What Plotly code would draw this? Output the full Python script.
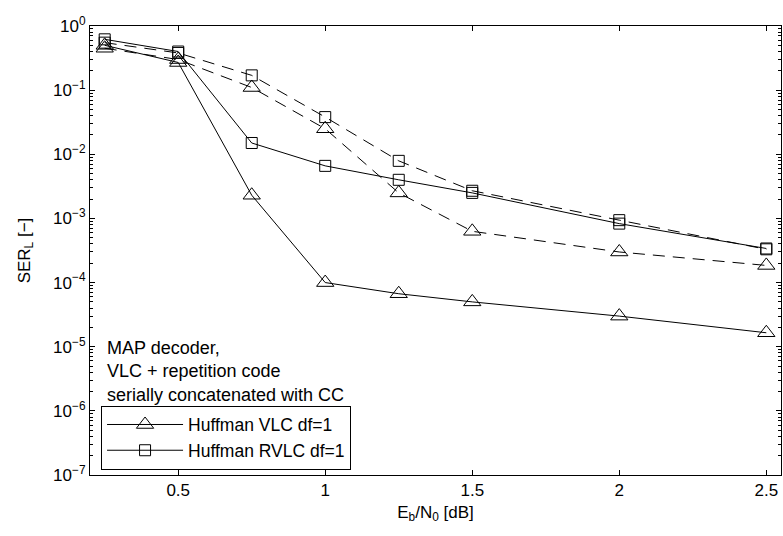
import plotly.graph_objects as go

ebn0 = [0.25, 0.5, 0.75, 1.0, 1.25, 1.5, 2.0, 2.5]
vlc_solid = [0.50, 0.27, 2.3e-3, 1.0e-4, 6.7e-5, 5.0e-5, 3.0e-5, 1.65e-5]
rvlc_solid = [0.62, 0.40, 1.5e-2, 6.6e-3, 4.0e-3, 2.5e-3, 8.3e-4, 3.4e-4]
vlc_dashed = [0.45, 0.30, 0.11, 2.5e-2, 2.5e-3, 6.3e-4, 3.0e-4, 1.85e-4]
rvlc_dashed = [0.55, 0.38, 0.17, 3.8e-2, 7.9e-3, 2.7e-3, 9.4e-4, 3.3e-4]

xtick_vals = [0.5, 1, 1.5, 2, 2.5]
xtick_text = ["0.5", "1", "1.5", "2", "2.5"]
ytick_exps = [0, -1, -2, -3, -4, -5, -6, -7]

font_family = "Liberation Sans, Arial, Helvetica, sans-serif"

fig = go.Figure()

def add(y, name, symbol, size, dash, show):
    fig.add_trace(go.Scatter(
        x=ebn0, y=y, mode="lines+markers", name=name, showlegend=show,
        line=dict(color="black", width=1, dash=dash),
        marker=dict(symbol=symbol, size=size, color="black",
                    line=dict(color="black", width=1)),
    ))

add(vlc_dashed, "VLC dashed", "triangle-up-open", 15, "12px,8px", False)
add(rvlc_dashed, "RVLC dashed", "square-open", 11, "12px,8px", False)
add(vlc_solid, "Huffman VLC df=1", "triangle-up-open", 15, "solid", True)
add(rvlc_solid, "Huffman RVLC df=1", "square-open", 11, "solid", True)

minor_vals = []
for e in range(-7, 0):
    for m in range(2, 10):
        minor_vals.append(m * 10 ** e)

fig.update_layout(
    width=783, height=536,
    margin=dict(l=90, r=2, t=26, b=61),
    paper_bgcolor="white", plot_bgcolor="white",
    font=dict(family=font_family, size=17, color="black"),
    legend=dict(x=0.016, y=0.012, xanchor="left", yanchor="bottom",
                bordercolor="black", borderwidth=1, bgcolor="white",
                font=dict(size=17.5), tracegroupgap=0, itemwidth=76),
    annotations=[dict(
        x=0.0217, y=0.309, xref="paper", yref="paper", xanchor="left", yanchor="top",
        align="left", showarrow=False,
        text="MAP decoder,<br>VLC + repetition code<br>serially concatenated with CC",
        font=dict(size=18, family=font_family),
    )],
)

fig.update_xaxes(
    range=[0.2, 2.55], tickvals=xtick_vals, ticktext=xtick_text, automargin=False,
    ticks="inside", ticklen=5, tickcolor="black", showline=True, linecolor="black",
    linewidth=1, mirror="ticks", showgrid=False, zeroline=False,
    title=dict(text="E<sub>b</sub>/N<sub>0</sub> [dB]", standoff=6, font=dict(size=17)),
)
fig.update_yaxes(
    type="log", range=[-7, 0], automargin=False,
    tickvals=[10 ** e for e in ytick_exps],
    ticktext=["10<sup>%s</sup>" % (str(e).replace("-", "−")) for e in ytick_exps],
    ticks="inside", ticklen=5, tickcolor="black", showline=True, linecolor="black",
    linewidth=1, mirror="ticks", showgrid=False, zeroline=False,
    minor=dict(tickvals=minor_vals, ticks="inside", ticklen=3, tickcolor="black", showgrid=False),
    title=dict(text="SER<sub>L</sub> [−]", standoff=18, font=dict(size=17)),
)

fig.write_html(
    "out.html",
    config={"displayModeBar": False},
    post_script="document.body.style.margin='0';document.body.style.overflow='hidden';",
)
